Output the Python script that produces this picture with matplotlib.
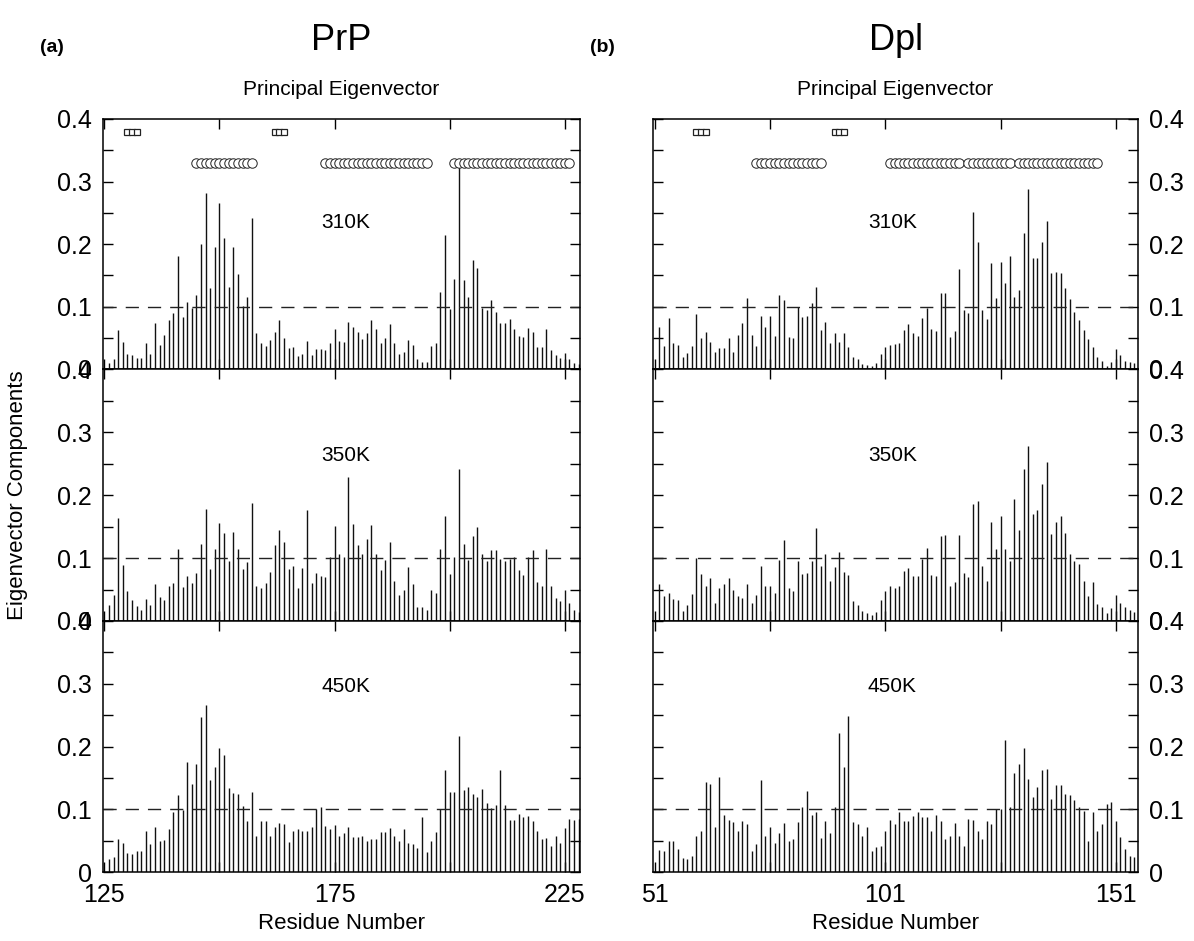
import numpy as np
import matplotlib
matplotlib.use("Agg")
import matplotlib.pyplot as plt

plt.rcParams['font.family'] = ['Liberation Sans', 'DejaVu Sans']

# residue numbers
prp_res = np.arange(126, 229)
dpl_res = np.arange(52, 156)

# principal eigenvector components, PrP
prp_310 = [0.010, 0.016, 0.063, 0.043, 0.024, 0.022, 0.017, 0.017, 0.041, 0.024,
           0.074, 0.039, 0.055, 0.078, 0.090, 0.181, 0.084, 0.107, 0.098, 0.119,
           0.200, 0.281, 0.129, 0.196, 0.266, 0.210, 0.132, 0.196, 0.152, 0.101,
           0.116, 0.242, 0.057, 0.042, 0.037, 0.047, 0.059, 0.078, 0.050, 0.034,
           0.035, 0.021, 0.024, 0.045, 0.022, 0.032, 0.032, 0.030, 0.042, 0.064,
           0.045, 0.043, 0.076, 0.067, 0.060, 0.048, 0.057, 0.078, 0.064, 0.042,
           0.049, 0.072, 0.042, 0.024, 0.028, 0.047, 0.039, 0.016, 0.012, 0.011,
           0.037, 0.042, 0.124, 0.214, 0.096, 0.144, 0.327, 0.142, 0.116, 0.175,
           0.162, 0.098, 0.094, 0.111, 0.091, 0.073, 0.073, 0.080, 0.064, 0.053,
           0.051, 0.066, 0.059, 0.035, 0.035, 0.064, 0.030, 0.022, 0.017, 0.026,
           0.016, 0.010, 0.008]
prp_350 = [0.025, 0.042, 0.164, 0.089, 0.047, 0.033, 0.024, 0.017, 0.035, 0.025,
           0.058, 0.038, 0.033, 0.056, 0.060, 0.115, 0.054, 0.071, 0.060, 0.076,
           0.122, 0.177, 0.083, 0.115, 0.156, 0.139, 0.095, 0.141, 0.114, 0.083,
           0.094, 0.188, 0.056, 0.053, 0.060, 0.078, 0.120, 0.145, 0.126, 0.083,
           0.087, 0.052, 0.084, 0.176, 0.060, 0.076, 0.071, 0.070, 0.102, 0.151,
           0.106, 0.102, 0.229, 0.154, 0.120, 0.106, 0.130, 0.152, 0.106, 0.081,
           0.097, 0.125, 0.064, 0.041, 0.049, 0.085, 0.058, 0.023, 0.023, 0.017,
           0.049, 0.044, 0.114, 0.166, 0.075, 0.102, 0.242, 0.122, 0.097, 0.135,
           0.149, 0.106, 0.095, 0.112, 0.112, 0.099, 0.095, 0.098, 0.102, 0.081,
           0.073, 0.102, 0.112, 0.062, 0.056, 0.114, 0.056, 0.037, 0.031, 0.049,
           0.029, 0.017, 0.015]
prp_450 = [0.020, 0.024, 0.053, 0.047, 0.031, 0.028, 0.034, 0.034, 0.066, 0.045,
           0.072, 0.049, 0.051, 0.068, 0.095, 0.122, 0.099, 0.176, 0.140, 0.172,
           0.247, 0.266, 0.147, 0.168, 0.197, 0.186, 0.134, 0.126, 0.125, 0.105,
           0.082, 0.127, 0.058, 0.082, 0.081, 0.057, 0.072, 0.078, 0.076, 0.048,
           0.065, 0.068, 0.066, 0.066, 0.072, 0.101, 0.103, 0.073, 0.069, 0.075,
           0.057, 0.062, 0.072, 0.055, 0.055, 0.057, 0.049, 0.053, 0.053, 0.064,
           0.064, 0.070, 0.058, 0.050, 0.068, 0.047, 0.045, 0.039, 0.088, 0.032,
           0.050, 0.063, 0.101, 0.162, 0.127, 0.127, 0.216, 0.131, 0.135, 0.124,
           0.120, 0.133, 0.110, 0.102, 0.106, 0.162, 0.106, 0.083, 0.083, 0.093,
           0.088, 0.089, 0.081, 0.065, 0.053, 0.054, 0.042, 0.057, 0.047, 0.070,
           0.085, 0.083, 0.085]

# principal eigenvector components, Dpl
dpl_310 = [0.068, 0.037, 0.082, 0.042, 0.039, 0.019, 0.026, 0.037, 0.088, 0.049,
           0.059, 0.043, 0.028, 0.034, 0.034, 0.049, 0.028, 0.055, 0.073, 0.113,
           0.055, 0.037, 0.085, 0.068, 0.085, 0.053, 0.119, 0.111, 0.051, 0.049,
           0.100, 0.084, 0.085, 0.105, 0.132, 0.063, 0.076, 0.042, 0.057, 0.043,
           0.057, 0.036, 0.020, 0.016, 0.008, 0.006, 0.005, 0.010, 0.024, 0.036,
           0.039, 0.040, 0.042, 0.063, 0.072, 0.058, 0.053, 0.082, 0.098, 0.064,
           0.061, 0.121, 0.121, 0.052, 0.061, 0.160, 0.094, 0.090, 0.252, 0.204,
           0.094, 0.080, 0.170, 0.113, 0.171, 0.137, 0.181, 0.115, 0.127, 0.218,
           0.288, 0.178, 0.178, 0.204, 0.237, 0.154, 0.156, 0.154, 0.130, 0.112,
           0.092, 0.079, 0.063, 0.048, 0.036, 0.020, 0.013, 0.005, 0.012, 0.032,
           0.023, 0.013, 0.011, 0.010]
dpl_350 = [0.059, 0.039, 0.045, 0.035, 0.034, 0.016, 0.026, 0.043, 0.100, 0.074,
           0.056, 0.068, 0.028, 0.053, 0.059, 0.068, 0.049, 0.039, 0.037, 0.059,
           0.029, 0.041, 0.088, 0.056, 0.056, 0.045, 0.097, 0.128, 0.053, 0.047,
           0.095, 0.074, 0.076, 0.095, 0.147, 0.088, 0.106, 0.064, 0.086, 0.109,
           0.078, 0.073, 0.032, 0.026, 0.016, 0.012, 0.010, 0.014, 0.034, 0.047,
           0.055, 0.053, 0.055, 0.080, 0.084, 0.071, 0.072, 0.099, 0.116, 0.073,
           0.072, 0.135, 0.136, 0.056, 0.062, 0.136, 0.076, 0.070, 0.186, 0.191,
           0.088, 0.064, 0.157, 0.114, 0.166, 0.114, 0.095, 0.194, 0.144, 0.242,
           0.277, 0.170, 0.176, 0.217, 0.252, 0.138, 0.157, 0.166, 0.140, 0.106,
           0.096, 0.090, 0.064, 0.040, 0.062, 0.027, 0.023, 0.012, 0.020, 0.041,
           0.029, 0.022, 0.018, 0.014]
dpl_450 = [0.035, 0.033, 0.050, 0.050, 0.037, 0.022, 0.020, 0.025, 0.057, 0.065,
           0.144, 0.140, 0.071, 0.152, 0.091, 0.083, 0.079, 0.066, 0.081, 0.077,
           0.033, 0.045, 0.147, 0.057, 0.071, 0.047, 0.062, 0.078, 0.049, 0.052,
           0.079, 0.104, 0.129, 0.091, 0.096, 0.054, 0.081, 0.062, 0.104, 0.221,
           0.168, 0.248, 0.079, 0.076, 0.058, 0.071, 0.033, 0.040, 0.042, 0.066,
           0.083, 0.077, 0.095, 0.082, 0.082, 0.089, 0.096, 0.087, 0.088, 0.066,
           0.091, 0.082, 0.053, 0.057, 0.078, 0.058, 0.041, 0.085, 0.083, 0.065,
           0.053, 0.082, 0.077, 0.101, 0.101, 0.210, 0.104, 0.158, 0.172, 0.197,
           0.148, 0.119, 0.135, 0.162, 0.164, 0.116, 0.139, 0.139, 0.124, 0.123,
           0.115, 0.104, 0.098, 0.049, 0.095, 0.066, 0.076, 0.108, 0.111, 0.081,
           0.056, 0.037, 0.025, 0.024]

# secondary structure: strands (squares) and helices (circles)
prp_strands = [130, 131, 132, 162, 163, 164]
prp_helices = list(range(145, 158)) + list(range(173, 196)) + list(range(201, 227))
dpl_strands = [60, 61, 62, 90, 91, 92]
dpl_helices = list(range(73, 88)) + list(range(102, 118)) + list(range(119, 129)) + list(range(130, 148))

temps = ["310K", "350K", "450K"]
temp_label_y = [0.235, 0.262, 0.296]

W, H = 1194, 941
fig = plt.figure(figsize=(W / 100, H / 100), dpi=100)

rows_px = [(119, 369), (369, 621), (621, 872)]
panels = [
    dict(x0=103, x1=580, res=prp_res, data=[prp_310, prp_350, prp_450], xlim=(124.7, 228.3),
         majors=[125, 150, 175, 200, 225], labels=["125", "", "175", "", "225"],
         strands=prp_strands, helices=prp_helices, side="left", tx=177.5,
         title="PrP", tag="(a)"),
    dict(x0=653, x1=1138, res=dpl_res, data=[dpl_310, dpl_350, dpl_450], xlim=(50.6, 155.8),
         majors=[51, 76, 101, 126, 151], labels=["51", "", "101", "", "151"],
         strands=dpl_strands, helices=dpl_helices, side="right", tx=102.5,
         title="Dpl", tag="(b)"),
]

for p in panels:
    for i, (ytop, ybot) in enumerate(rows_px):
        ax = fig.add_axes([p["x0"] / W, 1 - ybot / H, (p["x1"] - p["x0"]) / W, (ybot - ytop) / H])
        ax.vlines(p["res"], 0, p["data"][i], color="#111111", lw=1.0)
        ax.axhline(0.1, color="#222222", lw=1.0, dashes=(9.5, 6.5))
        ax.set_xlim(*p["xlim"])
        ax.set_ylim(0, 0.4)
        ax.set_yticks([0, 0.1, 0.2, 0.3, 0.4])
        ax.set_yticklabels(["0", "0.1", "0.2", "0.3", "0.4"])
        ax.set_yticks(np.arange(0.05, 0.4, 0.1), minor=True)
        ax.set_xticks(p["majors"])
        ax.tick_params(axis="both", which="both", direction="in", length=7, width=1,
                       top=True, right=True, labelsize=18, pad=8)
        if p["side"] == "right":
            ax.tick_params(axis="y", labelleft=False, labelright=True)
        if i == 2:
            ax.set_xticklabels(p["labels"])
            ax.set_xlabel("Residue Number", fontsize=16, labelpad=4)
        else:
            ax.tick_params(axis="x", labelbottom=False)
        for s in ax.spines.values():
            s.set_linewidth(1.1)
        ax.text(p["tx"], temp_label_y[i], temps[i], fontsize=15, ha="center", va="center")
        if i == 0:
            ax.plot(p["strands"], [0.38] * len(p["strands"]), "s", ms=5,
                    mfc="white", mec="#222222", mew=0.9, ls="none")
            ax.plot(p["helices"], [0.33] * len(p["helices"]), "o", ms=6.8,
                    mfc="white", mec="#222222", mew=0.7, ls="none")
            ax.set_title("Principal Eigenvector", fontsize=15, pad=17)
    cx = (p["x0"] + p["x1"]) / 2 / W
    fig.text(cx, 1 - 40 / H, p["title"], fontsize=26, ha="center", va="center")
    fig.text((p["x0"] - 63) / W, 1 - 48 / H, p["tag"], fontsize=14, fontweight="bold",
             ha="left", va="center")

fig.text(18 / W, 1 - 495 / H, "Eigenvector Components", rotation=90, fontsize=16,
         ha="center", va="center")

fig.savefig("out.png", dpi=100)
